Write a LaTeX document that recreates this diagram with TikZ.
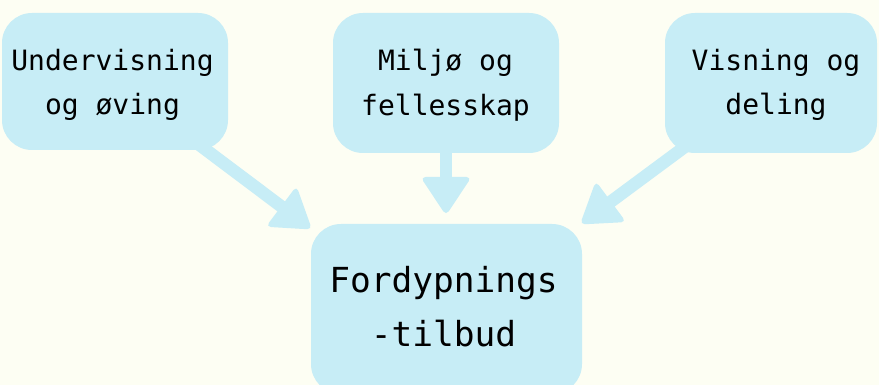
\documentclass[tikz,border=0pt]{standalone}
\usepackage{fontspec}
\setmonofont{DejaVu Sans Mono}
\usetikzlibrary{calc}
\definecolor{bgc}{RGB}{253,254,243}
\definecolor{boxc}{RGB}{199,237,246}
\pgfdeclarelayer{bglayer}
\pgfdeclarelayer{arrlayer}
\pgfsetlayers{bglayer,arrlayer,main}
\newcommand\headarrow[2]{%
  \begin{pgfonlayer}{arrlayer}
    \draw[shaftline] (#1.center) -- ($(#2)!22pt!(#1.center)$);
    \fill[headfill] ($(#2)!-2.5pt!(#1.center)$)
      -- ($(#2)!36pt!(#1.center)!25.5pt!90:(#2)$)
      -- ($(#2)!36pt!(#1.center)!25.5pt!-90:(#2)$) -- cycle;
  \end{pgfonlayer}}
\begin{document}
\begin{tikzpicture}[x=1pt,y=-1pt,
  box/.style={fill=boxc, draw=none, rounded corners=30pt, inner sep=0pt},
  smalltxt/.style={font=\ttfamily\fontsize{28}{44.5}\selectfont, align=center, inner sep=0pt, text=black},
  bigtxt/.style={font=\ttfamily\fontsize{34.5}{54}\selectfont, align=center, inner sep=0pt, text=black},
  shaftline/.style={draw=boxc, line width=12.5pt},
  headfill/.style={fill=boxc, rounded corners=5pt}]
\useasboundingbox (0,0) rectangle (879,385);
\begin{pgfonlayer}{bglayer}
  \fill[bgc] (0,0) rectangle (879,385);
\end{pgfonlayer}
% boxes
\node[box, minimum width=226pt, minimum height=137pt] (b1) at (115,81.5) {};
\node[box, minimum width=226pt, minimum height=140pt] (b2) at (446,83) {};
\node[box, minimum width=212pt, minimum height=140pt] (b3) at (771,83) {};
\node[box, minimum width=271pt, minimum height=170pt] (m) at (446.5,309) {};
% texts
\node[smalltxt] (b1t) at (112.5,85) {Undervisning\\og øving};
\node[smalltxt] (b2t) at (445.5,85) {Miljø og\\fellesskap};
\node[smalltxt] (b3t) at (776,85) {Visning og\\deling};
\node[bigtxt] (mt) at (443.5,307) {Fordypnings\\-tilbud};
% arrow tips
\coordinate (t1) at (310,228);
\coordinate (t2) at (446,213);
\coordinate (t3) at (582,223);
\headarrow{b1}{t1}
\headarrow{b2}{t2}
\headarrow{b3}{t3}
\end{tikzpicture}
\end{document}
